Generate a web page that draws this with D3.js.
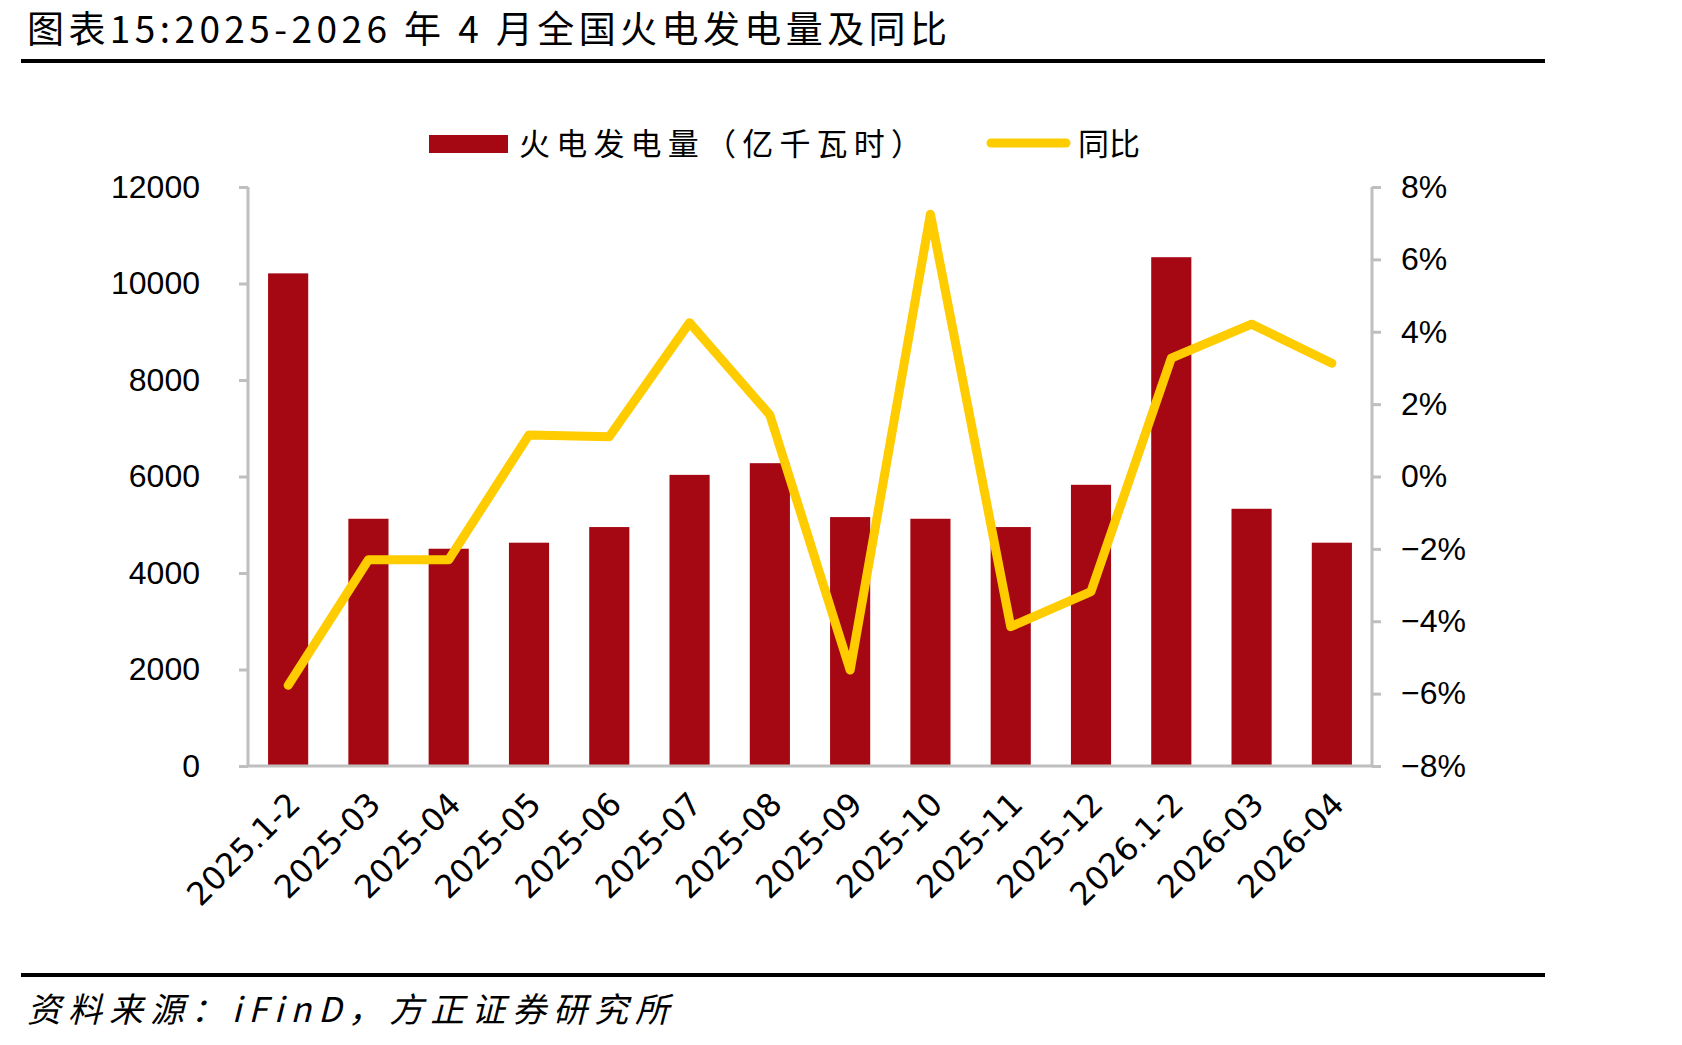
<!DOCTYPE html>
<html>
<head>
<meta charset="utf-8">
<script src="https://cdn.jsdelivr.net/npm/d3@7.9.0/dist/d3.min.js"></script>
<style>
  html, body { margin: 0; padding: 0; background: #fff; }
  svg { display: block; }
</style>
</head>
<body>
<svg id="chart" width="1682" height="1045"></svg>
<script>
// data
const categories = ['2025.1-2', '2025-03', '2025-04', '2025-05', '2025-06', '2025-07', '2025-08',
  '2025-09', '2025-10', '2025-11', '2025-12', '2026.1-2', '2026-03', '2026-04'];
const power = [10210, 5124, 4503, 4628, 4952, 6034, 6276, 5159, 5124, 4952, 5828, 10545, 5331, 4628];
const yoy = [-5.77, -2.30, -2.30, 1.15, 1.10, 4.25, 1.70, -5.35, 7.25, -4.15, -3.18, 3.27, 4.21, 3.13];
const leftTicks = [0, 2000, 4000, 6000, 8000, 10000, 12000];
const rightTicks = [-8, -6, -4, -2, 0, 2, 4, 6, 8];

const title = '图表15:2025-2026 年 4 月全国火电发电量及同比';
const source = '资料来源：iFinD，方正证券研究所';
const barName = '火电发电量（亿千瓦时）';
const lineName = '同比';

const barColor = '#A50813';
const lineColor = '#FFCC00';
const axisColor = '#BFBFBF';
const numFont = '"Liberation Sans", Arial, sans-serif';
const catFont = '"DejaVu Sans", sans-serif';
const cjkFont = '"Noto Sans CJK SC", sans-serif';

const svg = d3.select('#chart');

// plot frame
const plot = { left: 248, right: 1372, top: 187, bottom: 766 };

const x = d3.scaleBand().domain(categories).range([plot.left, plot.right]).paddingInner(0.5).paddingOuter(0.25);
const yL = d3.scaleLinear().domain([0, 12000]).range([plot.bottom, plot.top]);
const yR = d3.scaleLinear().domain([-8, 8]).range([plot.bottom, plot.top]);

// title + rules
svg.append('text')
  .attr('x', 27).attr('y', 43)
  .attr('font-family', cjkFont).attr('font-size', 37)
  .attr('textLength', 920).attr('lengthAdjust', 'spacing')
  .attr('fill', '#000')
  .text(title);
svg.append('rect').attr('x', 21).attr('y', 59).attr('width', 1524).attr('height', 4).attr('fill', '#000');
svg.append('rect').attr('x', 21).attr('y', 973).attr('width', 1524).attr('height', 4).attr('fill', '#000');
svg.append('text')
  .attr('x', 27).attr('y', 1022)
  .attr('font-family', cjkFont).attr('font-size', 34).attr('font-style', 'italic')
  .attr('textLength', 642).attr('lengthAdjust', 'spacing')
  .text(source);

// bars
svg.append('g').selectAll('rect')
  .data(categories)
  .join('rect')
    .attr('x', d => x(d))
    .attr('y', (d, i) => yL(power[i]))
    .attr('width', x.bandwidth())
    .attr('height', (d, i) => yL(0) - yL(power[i]))
    .attr('fill', barColor);

// axes
const leftAxis = svg.append('g').attr('transform', `translate(${plot.left},0)`)
  .call(d3.axisLeft(yL).tickValues(leftTicks).tickSize(9).tickPadding(39).tickFormat(d3.format('d')));
const rightAxis = svg.append('g').attr('transform', `translate(${plot.right},0)`)
  .call(d3.axisRight(yR).tickValues(rightTicks).tickSize(9).tickPadding(20)
    .tickFormat(d => (d < 0 ? '−' : '') + Math.abs(d) + '%'));
const bottomAxis = svg.append('g').attr('transform', `translate(0,${plot.bottom})`)
  .call(d3.axisBottom(x).tickSize(0).tickPadding(0));

[leftAxis, rightAxis, bottomAxis].forEach(g => {
  g.select('.domain').attr('stroke', axisColor).attr('stroke-width', 3);
  g.selectAll('.tick line').attr('stroke', axisColor).attr('stroke-width', 3);
  g.selectAll('text').attr('fill', '#000').attr('font-family', numFont).attr('font-size', 32);
});
// straight edges, no outer tick hooks
leftAxis.select('.domain').attr('d', `M0,${plot.top}V${plot.bottom}`);
rightAxis.select('.domain').attr('d', `M0,${plot.top}V${plot.bottom}`);
bottomAxis.select('.domain').attr('d', `M${plot.left},0H${plot.right}`);

bottomAxis.selectAll('.tick text')
  .attr('font-family', catFont)
  .attr('font-size', 32)
  .attr('text-anchor', 'end')
  .attr('dy', 0)
  .attr('transform', 'translate(14,40) rotate(-45)');

// yoy line
const line = d3.line()
  .x((d, i) => x(categories[i]) + x.bandwidth() / 2)
  .y(d => yR(d));
svg.append('path')
  .datum(yoy)
  .attr('d', line)
  .attr('fill', 'none')
  .attr('stroke', lineColor)
  .attr('stroke-width', 9)
  .attr('stroke-linejoin', 'round')
  .attr('stroke-linecap', 'round');

// legend
const legend = svg.append('g');
legend.append('rect').attr('x', 429).attr('y', 135).attr('width', 79).attr('height', 18).attr('fill', barColor);
legend.append('text').attr('x', 519).attr('y', 155)
  .attr('font-family', cjkFont).attr('font-size', 31)
  .attr('textLength', 403).attr('lengthAdjust', 'spacing')
  .text(barName);
legend.append('line').attr('x1', 991).attr('x2', 1066).attr('y1', 143).attr('y2', 143)
  .attr('stroke', lineColor).attr('stroke-width', 9).attr('stroke-linecap', 'round');
legend.append('text').attr('x', 1078).attr('y', 155)
  .attr('font-family', cjkFont).attr('font-size', 31)
  .text(lineName);
</script>
</body>
</html>
